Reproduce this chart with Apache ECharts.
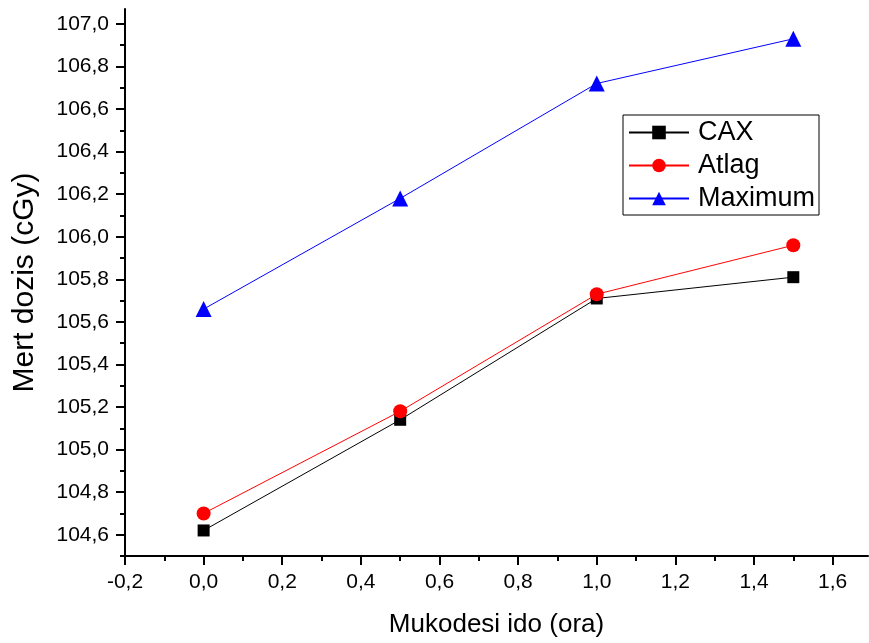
<!DOCTYPE html>
<html>
<head>
<meta charset="utf-8">
<script src="https://cdn.jsdelivr.net/npm/echarts@6/dist/echarts.min.js"></script>
<style>
  html, body { margin: 0; padding: 0; background: #fff; }
  #chart { width: 869px; height: 643px; }
</style>
</head>
<body>
<div id="chart"></div>
<script>
// adatok
const xValues = [0.0, 0.5, 1.0, 1.5];
const cax = [104.62, 105.14, 105.71, 105.81];
const atlag = [104.70, 105.18, 105.73, 105.96];
const maximum = [105.66, 106.18, 106.72, 106.93];

const xMajor = [-0.2, 0, 0.2, 0.4, 0.6, 0.8, 1.0, 1.2, 1.4, 1.6];
const xMinor = [-0.1, 0.1, 0.3, 0.5, 0.7, 0.9, 1.1, 1.3, 1.5];
const yMajor = [104.6, 104.8, 105.0, 105.2, 105.4, 105.6, 105.8, 106.0, 106.2, 106.4, 106.6, 106.8, 107.0];
const yMinor = [104.5, 104.7, 104.9, 105.1, 105.3, 105.5, 105.7, 105.9, 106.1, 106.3, 106.5, 106.7, 106.9];

const font = "'Liberation Sans', Arial, sans-serif";
const fmt = v => v.toFixed(1).replace('.', ',');
const pairs = arr => xValues.map((x, i) => [x, arr[i]]);

let myChart = echarts.init(document.getElementById("chart"));
myChart.setOption({
  animation: false,
  textStyle: { fontFamily: font },
  grid: { left: 125, top: 9, right: 1, bottom: 86 },
  legend: {
    orient: "vertical",
    left: 623,
    top: 115,
    borderColor: "#000",
    borderWidth: 1,
    padding: [4, 4, 3, 5],
    itemWidth: 60,
    itemHeight: 17,
    itemGap: 6,
    textStyle: { fontSize: 27, color: "#000", fontFamily: font, padding: [0, 0, 0, 4] },
    data: ["CAX", "Atlag", "Maximum"]
  },
  xAxis: [
    {
      type: "value",
      min: -0.2,
      max: 1.69,
      interval: 0.2,
      splitLine: { show: false },
      axisLine: { onZero: false, lineStyle: { color: "#000", width: 2 } },
      axisTick: { customValues: xMajor, length: 9, lineStyle: { color: "#000", width: 2 } },
      axisLabel: { customValues: xMajor, formatter: fmt, fontSize: 21, color: "#000", margin: 16, fontFamily: font },
      name: "Mukodesi ido (ora)",
      nameLocation: "middle",
      nameGap: 56,
      nameTextStyle: { fontSize: 26, color: "#000", fontFamily: font }
    },
    {
      type: "value",
      position: "bottom",
      min: -0.2,
      max: 1.69,
      interval: 0.2,
      splitLine: { show: false },
      axisLine: { show: false, onZero: false },
      axisTick: { customValues: xMinor, length: 5, lineStyle: { color: "#000", width: 2 } },
      axisLabel: { show: false }
    }
  ],
  yAxis: [
    {
      type: "value",
      position: "left",
      min: 104.5,
      max: 107.07,
      interval: 0.1,
      splitLine: { show: false },
      axisLine: { onZero: false, lineStyle: { color: "#000", width: 2 } },
      axisTick: { customValues: yMajor, length: 9, lineStyle: { color: "#000", width: 2 } },
      axisLabel: { customValues: yMajor, formatter: fmt, fontSize: 21, color: "#000", margin: 16, fontFamily: font },
      name: "Mert dozis (cGy)",
      nameLocation: "middle",
      nameGap: 85,
      nameTextStyle: { fontSize: 30, color: "#000", fontFamily: font }
    },
    {
      type: "value",
      position: "left",
      min: 104.5,
      max: 107.07,
      interval: 0.1,
      splitLine: { show: false },
      axisLine: { show: false, onZero: false },
      axisTick: { customValues: yMinor, length: 5, lineStyle: { color: "#000", width: 2 } },
      axisLabel: { show: false }
    }
  ],
  series: [
    {
      name: "CAX",
      type: "line",
      data: pairs(cax),
      symbol: "rect",
      symbolSize: 12,
      itemStyle: { color: "#000" },
      lineStyle: { color: "#000", width: 1 }
    },
    {
      name: "Atlag",
      type: "line",
      data: pairs(atlag),
      symbol: "circle",
      symbolSize: 14,
      itemStyle: { color: "#ff0000" },
      lineStyle: { color: "#ff0000", width: 1 }
    },
    {
      name: "Maximum",
      type: "line",
      data: pairs(maximum),
      symbol: "triangle",
      symbolSize: 16,
      itemStyle: { color: "#0000ff" },
      lineStyle: { color: "#0000ff", width: 1 }
    }
  ]
});
window.onresize = function () {
  myChart.resize();
};
</script>
</body>
</html>
